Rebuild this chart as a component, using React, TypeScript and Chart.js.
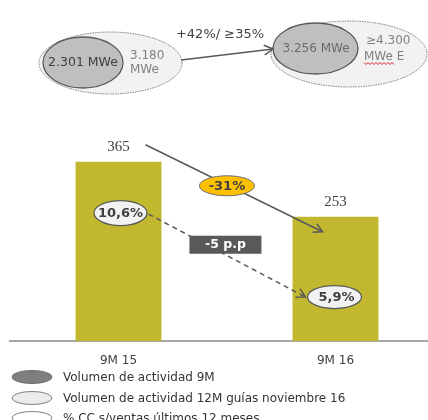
import React, { useEffect, useRef } from "react";
import Chart from "chart.js/auto";

// ---- data ----
const categories = ["9M 15", "9M 16"];
const volumen9M = [365, 253];
const ccPct = [10.6, 5.9];
const ccPctLabels = ["10,6%", "5,9%"];
const volumenChangeLabel = "-31%";
const ccChangeLabel = "-5 p.p";
const mwe9M = ["2.301 MWe", "3.256 MWe"];
const mwe12M = [["3.180", "MWe"], ["≥4.300", "MWe E"]];
const mweGrowthLabel = "+42%/ ≥35%";
const legendLabels = [
  "Volumen de actividad 9M",
  "Volumen de actividad 12M guías noviembre 16",
  "% CC s/ventas últimos 12 meses",
];

const SANS = '"DejaVu Sans", sans-serif';
const SERIF = '"Liberation Serif", serif';

function ellipse(
  ctx: CanvasRenderingContext2D,
  cx: number,
  cy: number,
  rx: number,
  ry: number,
  fill: string | null,
  stroke: string | null,
  lw = 1,
  dash: number[] = []
) {
  ctx.save();
  ctx.beginPath();
  ctx.ellipse(cx, cy, rx, ry, 0, 0, Math.PI * 2);
  if (fill) {
    ctx.fillStyle = fill;
    ctx.fill();
  }
  if (stroke) {
    ctx.setLineDash(dash);
    ctx.strokeStyle = stroke;
    ctx.lineWidth = lw;
    ctx.stroke();
  }
  ctx.restore();
}

function arrow(
  ctx: CanvasRenderingContext2D,
  x1: number,
  y1: number,
  x2: number,
  y2: number,
  color: string,
  lw: number,
  dash: number[] = []
) {
  ctx.save();
  ctx.strokeStyle = color;
  ctx.lineWidth = lw;
  ctx.setLineDash(dash);
  ctx.beginPath();
  ctx.moveTo(x1, y1);
  ctx.lineTo(x2, y2);
  ctx.stroke();
  ctx.setLineDash([]);
  const a = Math.atan2(y2 - y1, x2 - x1);
  const L = 10;
  const s = 0.5;
  ctx.beginPath();
  ctx.moveTo(x2 - L * Math.cos(a - s), y2 - L * Math.sin(a - s));
  ctx.lineTo(x2, y2);
  ctx.lineTo(x2 - L * Math.cos(a + s), y2 - L * Math.sin(a + s));
  ctx.stroke();
  ctx.restore();
}

function text(
  ctx: CanvasRenderingContext2D,
  t: string,
  x: number,
  y: number,
  font: string,
  color: string,
  align: CanvasTextAlign = "center"
) {
  ctx.save();
  ctx.font = font;
  ctx.fillStyle = color;
  ctx.textAlign = align;
  ctx.textBaseline = "middle";
  ctx.fillText(t, x, y);
  ctx.restore();
}

const overlay = {
  id: "overlay",
  afterDraw(chart: any) {
    const ctx: CanvasRenderingContext2D = chart.ctx;
    const bars = chart.getDatasetMeta(0).data;
    const yPct = chart.scales.yPct;

    // ---- top ellipses ----
    ellipse(ctx, 110.5, 63, 71.5, 31, "#f2f2f2", "#7a7a7a", 1, [1.5, 1]);
    ellipse(ctx, 83, 62.5, 40, 25.5, "#bfbfbf", "#595959", 1.3);
    text(ctx, mwe9M[0], 83, 63, `12.5px ${SANS}`, "#404040");
    text(ctx, mwe12M[0][0], 130, 56, `12px ${SANS}`, "#808080", "left");
    text(ctx, mwe12M[0][1], 130, 70, `12px ${SANS}`, "#808080", "left");

    ellipse(ctx, 349, 54, 78, 33, "#f2f2f2", "#7a7a7a", 1, [1.5, 1]);
    ellipse(ctx, 315.5, 48.5, 42.5, 25.5, "#bfbfbf", "#595959", 1.3);
    text(ctx, mwe9M[1], 316, 48.5, `12px ${SANS}`, "#6a6a6a");
    text(ctx, mwe12M[1][0], 366, 41, `12px ${SANS}`, "#808080", "left");
    text(ctx, mwe12M[1][1], 364, 57, `12px ${SANS}`, "#808080", "left");
    // red wavy underline
    ctx.save();
    ctx.strokeStyle = "#e02020";
    ctx.lineWidth = 1;
    ctx.beginPath();
    for (let x = 364, i = 0; x <= 395; x += 2, i++) {
      const y = 63.5 + (i % 2 === 0 ? -1 : 1);
      if (i === 0) ctx.moveTo(x, y);
      else ctx.lineTo(x, y);
    }
    ctx.stroke();
    ctx.restore();

    arrow(ctx, 181, 60, 273, 49, "#595959", 1.5);
    text(ctx, mweGrowthLabel, 220, 35, `13px ${SANS}`, "#404040");

    // ---- value labels ----
    bars.forEach((b: any, i: number) => {
      text(ctx, String(volumen9M[i]), b.x, b.y - 15, `15px ${SERIF}`, "#404040");
    });

    // ---- solid arrow with -31% ----
    const b0 = bars[0];
    const b1 = bars[1];
    const sx = b0.x + 27, sy = b0.y - 17;
    const ex = b1.x - 13, ey = b1.y + 15;
    arrow(ctx, sx, sy, ex, ey, "#595959", 1.5);
    const t = 0.46;
    const mx = sx + (ex - sx) * t, my = sy + (ey - sy) * t + 1;
    ellipse(ctx, mx, my, 27.5, 10, "#ffc000", "#6b6b6b", 1);
    text(ctx, volumenChangeLabel, mx, my + 0.5, `bold 13px ${SANS}`, "#404040");

    // ---- dashed arrow with -5 p.p ----
    const p0y = yPct.getPixelForValue(ccPct[0]);
    const p1y = yPct.getPixelForValue(ccPct[1]);
    const p0x = b0.x + 2;
    const p1x = b1.x - 1;
    const dsx = p0x + 28, dsy = p0y + 1;
    const dex = p1x - 29, dey = p1y;
    arrow(ctx, dsx, dsy, dex, dey, "#595959", 1.5, [5, 4]);
    const bt = 0.49;
    const bx = dsx + (dex - dsx) * bt, by = dsy + (dey - dsy) * bt - 10;
    ctx.save();
    ctx.fillStyle = "#595959";
    ctx.fillRect(bx - 36, by - 9, 72, 18);
    ctx.restore();
    text(ctx, ccChangeLabel, bx, by + 0.5, `bold 12.5px ${SANS}`, "#ffffff");

    // ---- % ellipses ----
    ellipse(ctx, p0x, p0y, 26.5, 12.5, "#f2f2f2", "#595959", 1.3);
    text(ctx, ccPctLabels[0], p0x, p0y + 0.5, `bold 13px ${SANS}`, "#404040");
    ellipse(ctx, p1x, p1y, 27, 11.5, "#f2f2f2", "#595959", 1.3);
    text(ctx, ccPctLabels[1], p1x + 2, p1y + 0.5, `bold 13px ${SANS}`, "#404040");

    // ---- legend ----
    const legendStyles = [
      { fill: "#7f7f7f", stroke: "#6a6a6a" },
      { fill: "#ebebeb", stroke: "#808080" },
      { fill: "#ffffff", stroke: "#808080" },
    ];
    const rows = [377, 398, 418];
    legendLabels.forEach((lab, i) => {
      ellipse(ctx, 32, rows[i], 20, 6.5, legendStyles[i].fill, legendStyles[i].stroke, 1);
      text(ctx, lab, 63, rows[i] + 1, `12px ${SANS}`, "#333333", "left");
    });
  },
};

export default function App() {
  const ref = useRef<HTMLCanvasElement | null>(null);
  useEffect(() => {
    if (!ref.current) return;
    const chart = new Chart(ref.current, {
      type: "bar",
      data: {
        labels: categories,
        datasets: [
          {
            data: volumen9M,
            backgroundColor: "#c1b82f",
            barPercentage: 1,
            categoryPercentage: 0.396,
          },
        ],
      },
      options: {
        responsive: false,
        animation: false,
        layout: { padding: { top: 120, left: 10, right: 2, bottom: 0 } },
        plugins: { legend: { display: false }, tooltip: { enabled: false } },
        scales: {
          x: {
            grid: { display: false, drawTicks: false },
            border: { display: true, color: "#a6a6a6", width: 2 },
            ticks: { color: "#404040", font: { family: SANS, size: 12 }, padding: 13 },
            afterFit: (s: any) => {
              s.height = 79;
            },
          },
          y: { display: false, min: 0, max: 450 },
          yPct: { display: false, position: "right", min: 3.44, max: 15.81 },
        },
      } as any,
      plugins: [overlay],
    });
    return () => chart.destroy();
  }, []);
  return (
    <div
      style={{
        position: "fixed",
        left: 0,
        top: 0,
        width: 428,
        height: 420,
        overflow: "hidden",
        background: "#ffffff",
      }}
    >
      <canvas ref={ref} width={446} height={420} style={{ display: "block" }} />
    </div>
  );
}
